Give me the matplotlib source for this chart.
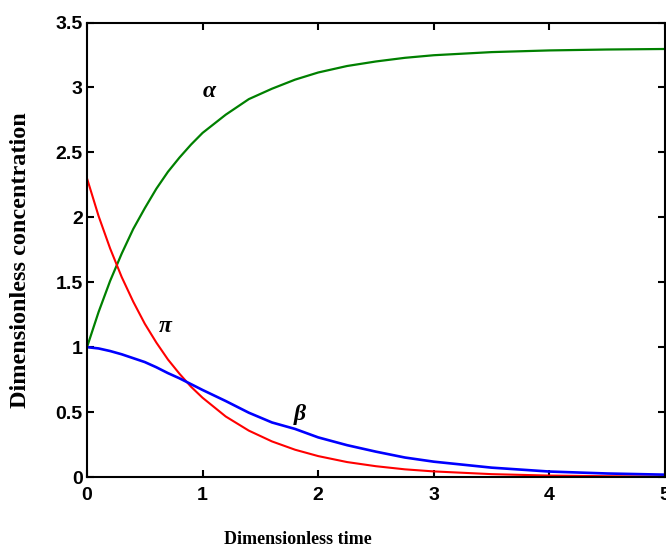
import numpy as np
import matplotlib
matplotlib.use("Agg")
import matplotlib.pyplot as plt

# Time grid and the three concentrations
t = [0, 0.1, 0.2, 0.3, 0.4, 0.5, 0.6, 0.7, 0.8, 0.9, 1.0, 1.2, 1.4, 1.6, 1.8,
     2.0, 2.25, 2.5, 2.75, 3.0, 3.5, 4.0, 4.5, 5.0]
alpha = [1.0, 1.27, 1.51, 1.72, 1.91, 2.07, 2.22, 2.35, 2.46, 2.56, 2.65, 2.79,
         2.91, 2.99, 3.06, 3.115, 3.165, 3.2, 3.228, 3.248, 3.272, 3.285, 3.292, 3.296]
pi_c = [2.3, 2.01, 1.76, 1.54, 1.35, 1.18, 1.035, 0.905, 0.795, 0.695, 0.61, 0.466,
        0.357, 0.274, 0.21, 0.161, 0.115, 0.083, 0.059, 0.043, 0.022, 0.011, 0.006, 0.003]
beta = [1.0, 0.99, 0.97, 0.945, 0.915, 0.885, 0.845, 0.80, 0.76, 0.715, 0.67, 0.585,
        0.495, 0.42, 0.37, 0.305, 0.245, 0.195, 0.15, 0.118, 0.072, 0.042, 0.027, 0.018]

fig = plt.figure(figsize=(6.66, 5.52), dpi=100)
ax = fig.add_axes([87 / 666, 1 - 477 / 552, 578 / 666, 454.5 / 552])

ax.plot(t, alpha, color='#008000', linewidth=1.6)
ax.plot(t, pi_c, color='#ff0000', linewidth=1.5)
ax.plot(t, beta, color='#0000ff', linewidth=1.9)

# curve labels
greek = dict(family='Liberation Serif', fontweight='bold', fontstyle='italic',
             fontsize=17, ha='center', va='center')
ax.text(1.06, 2.97, 'α', **greek)
ax.text(0.68, 1.16, 'π', **greek)
ax.text(1.84, 0.48, 'β', **greek)

ax.set_xlim(0, 5)
ax.set_ylim(0, 3.5)
ax.set_xticks([0, 1, 2, 3, 4, 5])
ax.set_yticks([0, 0.5, 1, 1.5, 2, 2.5, 3, 3.5])
ax.set_xticklabels(['0', '1', '2', '3', '4', '5'])
ax.set_yticklabels(['0', '0.5', '1', '1.5', '2', '2.5', '3', '3.5'])
ax.tick_params(direction='in', top=True, right=True, length=5, width=1.5,
               labelsize=14)
ax.tick_params(axis='x', pad=7)
ax.tick_params(axis='y', pad=3)
for lab in ax.get_xticklabels() + ax.get_yticklabels():
    lab.set_family('Liberation Sans')
    lab.set_fontweight('bold')
for s in ax.spines.values():
    s.set_linewidth(1.5)

# axis titles
fig.text(298 / 666, 1 - 539 / 552, 'Dimensionless time', family='Liberation Serif',
         fontweight='bold', fontsize=13, ha='center', va='center')
fig.text(21 / 666, 1 - 260 / 552, 'Dimensionless concentration', family='Liberation Serif',
         fontweight='bold', fontsize=17.5, ha='center', va='center', rotation=90)

fig.savefig('out.png', dpi=100)
